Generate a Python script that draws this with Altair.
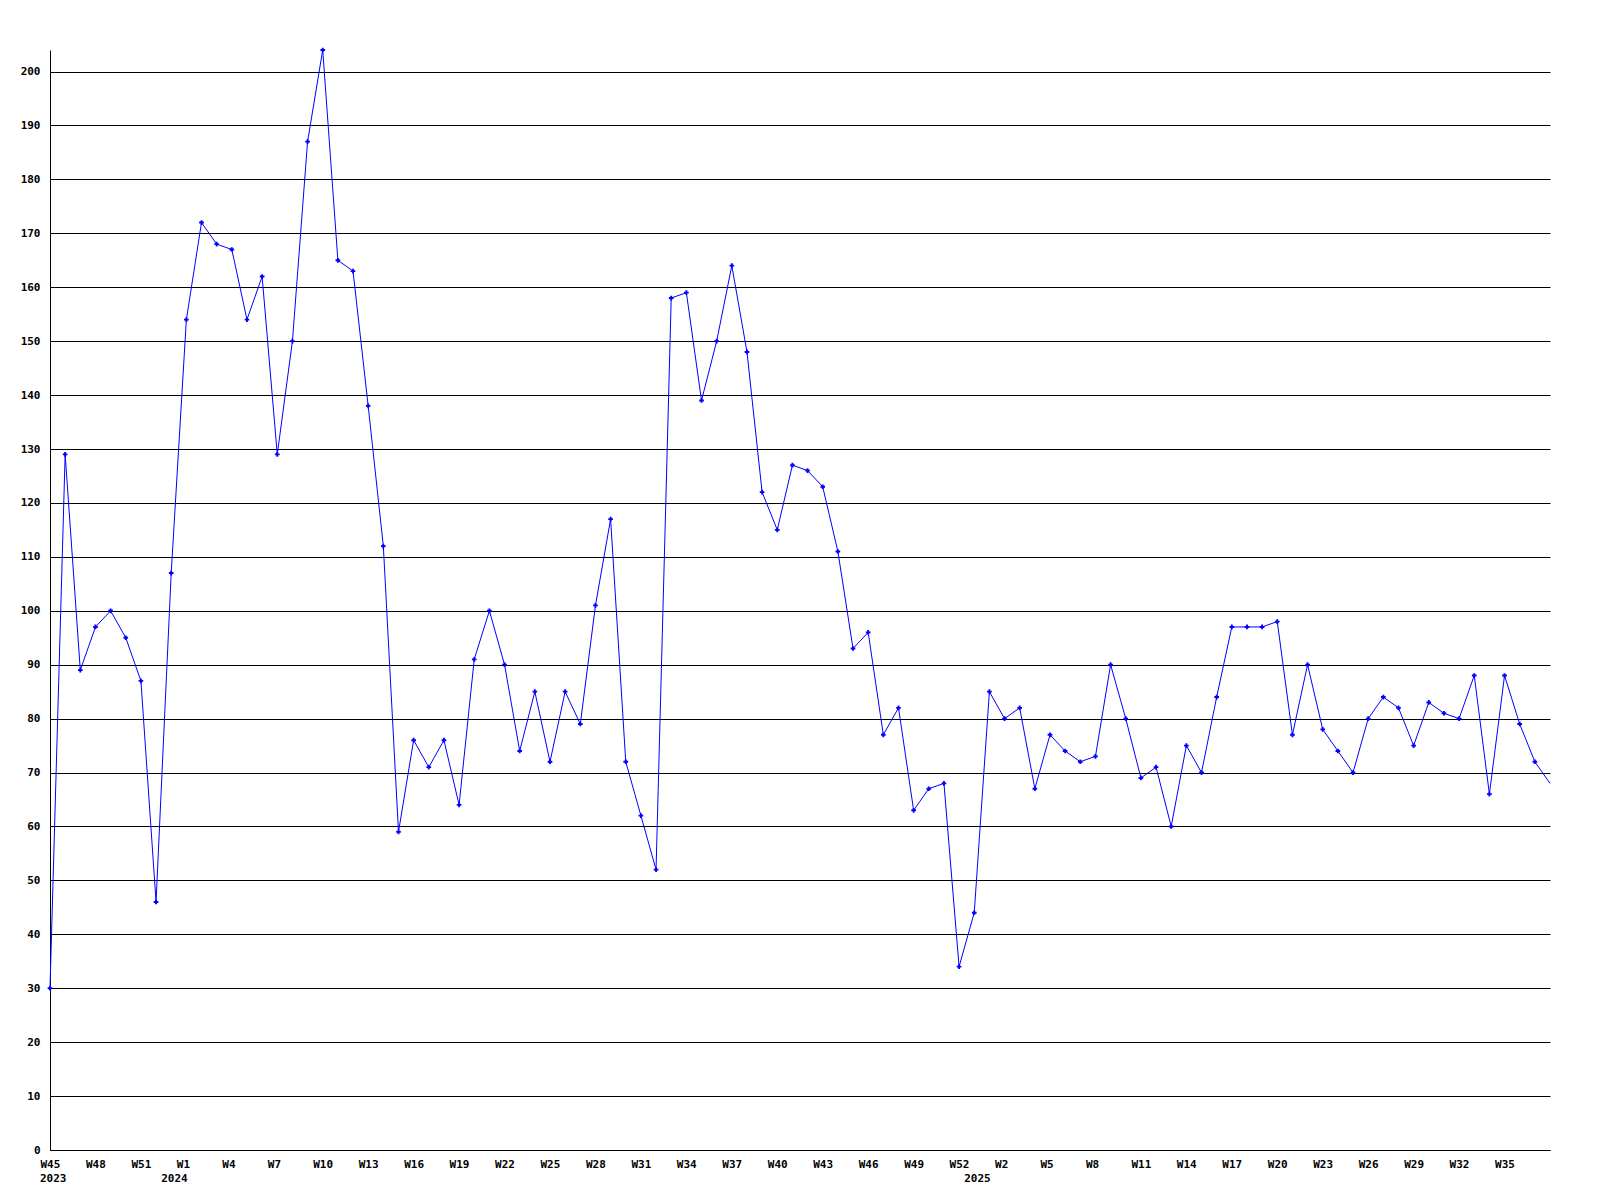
import altair as alt
import pandas as pd

values = [30, 129, 89, 97, 100, 95, 87, 46, 107, 154,
          172, 168, 167, 154, 162, 129, 150, 187, 204, 165,
          163, 138, 112, 59, 76, 71, 76, 64, 91, 100,
          90, 74, 85, 72, 85, 79, 101, 117, 72, 62,
          52, 158, 159, 139, 150, 164, 148, 122, 115, 127,
          126, 123, 111, 93, 96, 77, 82, 63, 67, 68,
          34, 44, 85, 80, 82, 67, 77, 74, 72, 73,
          90, 80, 69, 71, 60, 75, 70, 84, 97, 97,
          97, 98, 77, 90, 78, 74, 70, 80, 84, 82,
          75, 83, 81, 80, 88, 66, 88, 79, 72, 68]

week_labels = ["W45", "W48", "W51", "W1", "W4", "W7", "W10", "W13", "W16", "W19",
               "W22", "W25", "W28", "W31", "W34", "W37", "W40", "W43", "W46", "W49",
               "W52", "W2", "W5", "W8", "W11", "W14", "W17", "W20", "W23", "W26",
               "W29", "W32", "W35"]
week_ticks = [3 * k for k in range(len(week_labels))]

year_labels = ["2023", "2024", "2025"]
year_pos = [0, 8, 61]

df = pd.DataFrame({"i": list(range(len(values))), "v": values})
ydf = pd.DataFrame({"i": year_pos, "year": year_labels})

label_map = "{" + ",".join(f"'{t}':'{l}'" for t, l in zip(week_ticks, week_labels)) + "}"

FONT = "DejaVu Sans Mono"

x_scale = alt.Scale(domain=[0, len(values) - 1], nice=False, zero=False)
y_scale = alt.Scale(domain=[0, 204], nice=False)

x_axis = alt.Axis(values=week_ticks, labelExpr=f"{label_map}[datum.value + '']",
                  ticks=False, grid=False, domain=True, domainColor="black",
                  labelFont=FONT, labelFontSize=11, labelFontWeight="bold",
                  labelColor="black", labelAlign="left", labelOffset=-10,
                  labelBaseline="top", labelPadding=8, title=None,
                  labelOverlap=False, labelFlush=False)
y_axis = alt.Axis(values=list(range(0, 201, 10)), ticks=False, grid=True,
                  gridColor="black", gridWidth=1, gridOpacity=1,
                  domain=True, domainColor="black",
                  labelFont=FONT, labelFontSize=11, labelFontWeight="bold",
                  labelColor="black", labelPadding=10, title=None,
                  labelOverlap=False, labelFlush=False)

base = alt.Chart(df)
line = base.mark_line(color="#0000FF", strokeWidth=1).encode(
    x=alt.X("i:Q", scale=x_scale, axis=x_axis),
    y=alt.Y("v:Q", scale=y_scale, axis=y_axis),
)
pts = base.mark_point(shape="cross", filled=True, size=22, color="#0000FF", opacity=1).encode(
    x=alt.X("i:Q", scale=x_scale),
    y=alt.Y("v:Q", scale=y_scale),
).transform_filter(f"datum.i < {len(values) - 1}")

years = alt.Chart(ydf).mark_text(font=FONT, fontSize=11, fontWeight="bold", color="black",
                                 align="left", baseline="top", dx=-10, dy=23).encode(
    x=alt.X("i:Q", scale=x_scale),
    y=alt.datum(0),
    text="year:N",
)

chart = alt.layer(line, pts, years).properties(
    width=1500, height=1100,
    background="white",
    autosize=alt.AutoSizeParams(type="none"),
    padding={"left": 42, "top": 42, "right": 42, "bottom": 45},
).configure_view(stroke=None)

chart.save("out.html", embed_options={"renderer": "svg", "actions": False})
